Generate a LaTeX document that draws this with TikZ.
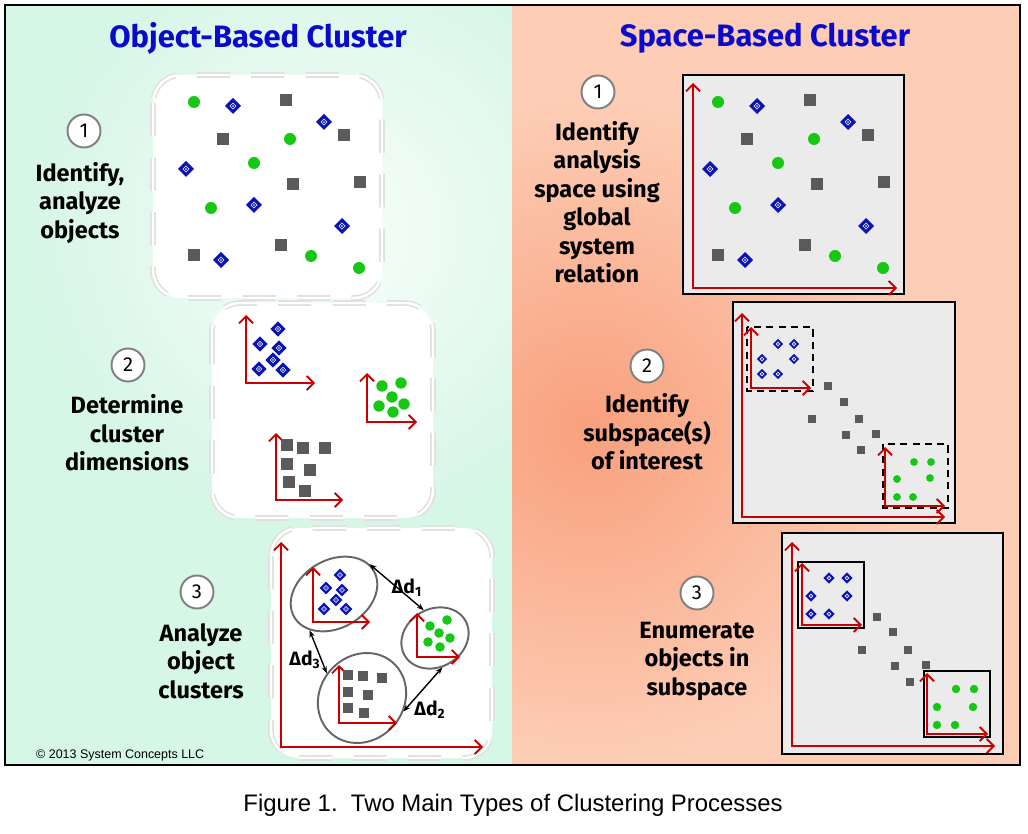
\documentclass[tikz,border=0pt]{standalone}
\usepackage{fontspec}
\setmainfont{Fira Sans}
\newfontfamily\capfont{Liberation Sans}
\usetikzlibrary{arrows.meta,shapes.geometric}
\definecolor{dblue}{HTML}{0A14B4}
\definecolor{grn}{HTML}{14C814}
\definecolor{sqgray}{HTML}{5A5A5A}
\definecolor{axred}{HTML}{C80000}
\definecolor{ttlblue}{HTML}{0A0ACC}
\definecolor{mint}{HTML}{D6F6E6}
\definecolor{peach}{HTML}{FDCDB5}
\definecolor{peachdk}{HTML}{F8A07D}
\definecolor{boxgray}{HTML}{EBEBEB}
\begin{document}
\begin{tikzpicture}[x=0.02cm,y=-0.02cm,
		ttl/.style={text=ttlblue,font=\fontsize{17.6}{20}\selectfont\bfseries},
		lbl/.style={align=center,font=\fontsize{13.4}{16.2}\selectfont\bfseries},
		numc/.style={circle,draw=black!50,line width=1.1pt,fill=white,minimum size=0.66cm,inner sep=0pt,font=\fontsize{11.5}{11.5}\selectfont},
		softbox/.style={fill=white,draw=black!12,line width=0.9pt,double=white,double distance=1.4pt,rounded corners=16pt,dash pattern=on 19pt off 12pt},
		spcbox/.style={fill=boxgray,draw=black,line width=1.6pt},
		subbox/.style={draw=black,line width=1.1pt},
		ax/.style={draw=axred,line width=1.1pt,{Straight Barb[length=4pt,width=8pt]}-{Straight Barb[length=4pt,width=8pt]}},
		clus/.style={ellipse,draw=black!60,line width=1.1pt,inner sep=0pt},
		dist/.style={black,line width=0.8pt,{Stealth[length=4pt]}-{Stealth[length=4pt]}},
		dlbl/.style={font=\fontsize{11}{12}\selectfont\bfseries},
		dot/.pic={\fill[grn] (0,0) circle (6);},
		sqr/.pic={\fill[sqgray] (-6,-6) rectangle (6,6);},
		dmd/.pic={\fill[dblue] (0,-8) -- (8,0) -- (0,8) -- (-8,0) -- cycle;
			\draw[white,line width=0.3pt] (0,-3) -- (3,0) -- (0,3) -- (-3,0) -- cycle;
			\fill[white] (0,0) circle (0.8);},
		scatter/.pic={
			\path (194,102) pic{dot} (290,139) pic{dot} (254,163) pic{dot} (211,208) pic{dot} (311,256) pic{dot} (359,268) pic{dot};
			\path (233,106) pic{dmd} (324,122) pic{dmd} (186,169) pic{dmd} (254,205) pic{dmd} (342,226) pic{dmd} (221,260) pic{dmd};
			\path (286,100) pic{sqr} (223,139) pic{sqr} (344,135) pic{sqr} (293,184) pic{sqr} (360,182) pic{sqr} (281,245) pic{sqr} (194,255) pic{sqr};}
	]
	\useasboundingbox (0,0) rectangle (1028,834);
	\fill[white] (0,0) rectangle (1028,834);
	% Hintergrund
	\begin{scope}
		\clip (5,5) rectangle (512,765);
		\fill[mint] (5,5) rectangle (512,765);
		\shade[inner color=white!85!mint,outer color=mint] (330,230) circle (300);
	\end{scope}
	\begin{scope}
		\clip (512,5) rectangle (1020,765);
		\fill[peach] (512,5) rectangle (1020,765);
		\shade[inner color=peachdk,outer color=peach] (590,430) circle (330);
	\end{scope}
	\draw[line width=1.3pt] (5,5) rectangle (1020,765);
	\node[ttl] (ttlL) at (258,38) {Object-Based Cluster};
	\node[ttl] (ttlR) at (765,38) {Space-Based Cluster};
	% Objekt-Seite
	\node[numc] (nL1) at (84,131) {1};
	\node[lbl] (tL1) at (80,203) {Identify,\\analyze\\objects};
	\node[numc] (nL2) at (128,365) {2};
	\node[lbl] (tL2) at (127,433) {Determine\\cluster\\dimensions};
	\node[numc] (nL3) at (197,592) {3};
	\node[lbl] (tL3) at (201,661) {Analyze\\object\\clusters};
	\draw[softbox] (153,75) rectangle (382,298);
	\draw[softbox] (212,303) rectangle (433,518);
	\draw[softbox] (271,528) rectangle (492,758);
	\pic at (0,0) {scatter};
	\draw[ax] (246,315) |- (315,383);
	\draw[ax] (367,373) |- (417,422);
	\draw[ax] (276,433) |- (343,500);
	\begin{scope}[every pic/.style={scale=.95}]
		\path (278,329) pic{dmd} (260,344) pic{dmd} (279,348) pic{dmd} (273,360) pic{dmd} (259,369) pic{dmd} (283,370) pic{dmd};
		\path (382,386) pic{dot} (401,383) pic{dot} (392,397) pic{dot} (379,406) pic{dot} (404,404) pic{dot} (393,412) pic{dot};
		\path (287,445) pic{sqr} (303,448) pic{sqr} (325,448) pic{sqr} (287,464) pic{sqr} (310,470) pic{sqr} (289,482) pic{sqr} (305,491) pic{sqr};
	\end{scope}
	\draw[ax] (281,542) |- (483,747);
	\node[clus,minimum width=1.84cm,minimum height=1.36cm,rotate=30] (clA) at (334,594) {};
	\node[clus,minimum width=1.4cm,minimum height=1.16cm,rotate=30] (clB) at (435,638) {};
	\node[clus,minimum width=1.88cm,minimum height=1.68cm,rotate=50] (clC) at (362,698) {};
	\draw[ax] (313,567) |- (370,622);
	\draw[ax] (417,613) |- (460,657);
	\draw[ax] (339,665) |- (397,723);
	\begin{scope}[every pic/.style={scale=.8}]
		\path (340,575) pic{dmd} (342,590) pic{dmd} (326,588) pic{dmd} (336,600) pic{dmd} (324,609) pic{dmd} (346,609) pic{dmd};
		\path (447,620) pic{dot} (430,626) pic{dot} (439,633) pic{dot} (450,638) pic{dot} (428,642) pic{dot} (440,647) pic{dot};
		\path (348,675) pic{sqr} (363,676) pic{sqr} (382,678) pic{sqr} (348,692) pic{sqr} (368,695) pic{sqr} (348,708) pic{sqr} (364,713) pic{sqr};
	\end{scope}
	\draw[dist] (clA.10) -- (clB.82);
	\draw[dist] (clB.254) -- (clC.292);
	\draw[dist] (clA.206) -- (clC.95);
	\node[dlbl] (dA) at (407,588) {Δd\textsubscript{1}};
	\node[dlbl] (dB) at (430,710) {Δd\textsubscript{2}};
	\node[dlbl] (dC) at (305,660) {Δd\textsubscript{3}};
	\node[anchor=west,font=\capfont\fontsize{7.1}{8}\selectfont] (copy) at (30,755) {© 2013 System Concepts LLC};
	% Raum-Seite
	\node[numc] (nR1) at (598,92) {1};
	\node[lbl] (tR1) at (597,202) {Identify\\analysis\\space using\\global\\system\\relation};
	\node[numc] (nR2) at (647,366) {2};
	\node[lbl] (tR2) at (647,432) {Identify\\subspace(s)\\of interest};
	\node[numc] (nR3) at (697,593) {3};
	\node[lbl] (tR3) at (697,661) {Enumerate\\objects in\\subspace};
	\draw[spcbox] (683,75) rectangle (904,294);
	\draw[ax] (693,83) |- (897,288);
	\pic at (524,0) {scatter};
	\draw[spcbox] (733,302) rectangle (955,523);
	\draw[subbox,dash pattern=on 4pt off 3pt] (747,327) rectangle (813,391);
	\draw[subbox,dash pattern=on 4pt off 3pt] (883,444) rectangle (948,508);
	\draw[ax] (742,313) |- (945,517);
	\draw[ax] (751,327) |- (811,388);
	\draw[ax] (885,447) |- (945,506);
	\begin{scope}[every pic/.style={scale=.65}]
		\path (778,344) pic{dmd} (794,344) pic{dmd} (762,359) pic{dmd} (794,359) pic{dmd} (762,374) pic{dmd} (778,374) pic{dmd};
		\path (828,386) pic{sqr} (844,402) pic{sqr} (812,419) pic{sqr} (859,419) pic{sqr} (846,435) pic{sqr} (876,434) pic{sqr} (861,450) pic{sqr};
		\path (914,462) pic{dot} (931,462) pic{dot} (897,479) pic{dot} (930,478) pic{dot} (897,497) pic{dot} (913,497) pic{dot};
	\end{scope}
	\draw[spcbox] (782,533) rectangle (1003,754);
	\draw[subbox] (798,562) rectangle (864,628);
	\draw[subbox] (924,671) rectangle (990,737);
	\draw[ax] (792,542) |- (995,746);
	\draw[ax] (802,563) |- (862,625);
	\draw[ax] (927,673) |- (988,734);
	\begin{scope}[every pic/.style={scale=.7}]
		\path (829,578) pic{dmd} (847,578) pic{dmd} (811,596) pic{dmd} (847,596) pic{dmd} (811,614) pic{dmd} (829,614) pic{dmd};
		\path (877,617) pic{sqr} (893,632) pic{sqr} (862,650) pic{sqr} (908,650) pic{sqr} (895,666) pic{sqr} (926,665) pic{sqr} (910,682) pic{sqr};
		\path (956,689) pic{dot} (974,689) pic{dot} (937,707) pic{dot} (973,707) pic{dot} (937,725) pic{dot} (955,725) pic{dot};
	\end{scope}
	\node[font=\capfont\fontsize{13.6}{15}\selectfont] (cap) at (513,805) {Figure 1.\ \ Two Main Types of Clustering Processes};
\end{tikzpicture}
\end{document}
